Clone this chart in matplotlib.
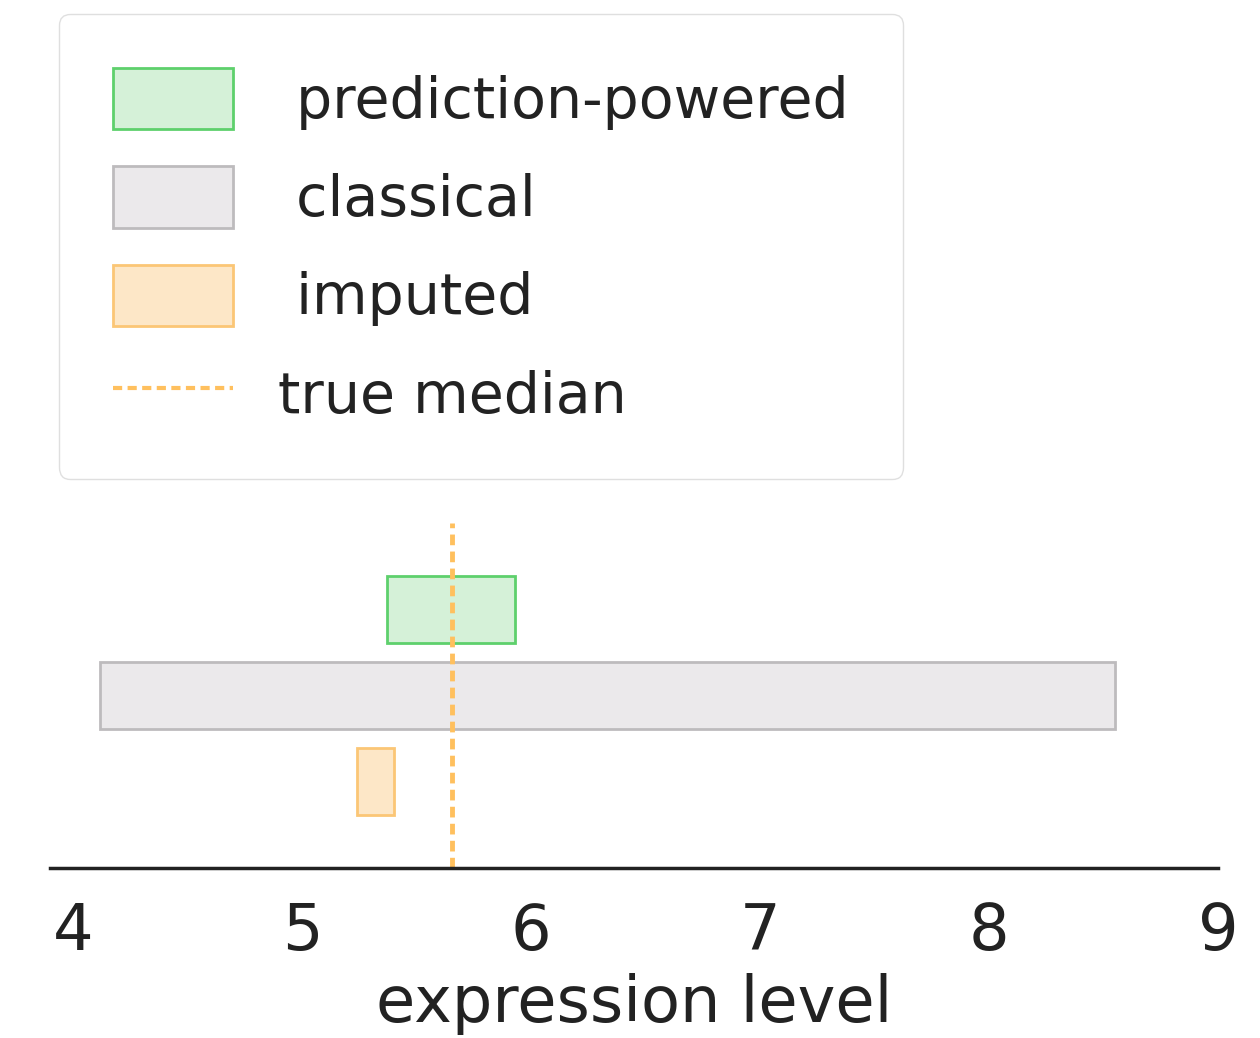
import matplotlib.pyplot as plt
from matplotlib.patches import Patch
from matplotlib.lines import Line2D

# ── DATA ──────────────────────────────────────────────────────────────
methods = ["prediction-powered", "classical", "imputed"]
lower   = [5.37, 4.12, 5.24]
upper   = [5.93, 8.55, 5.40]
true_median = 5.655

fill_colors = ["#d5f1d8", "#ebe9eb", "#fde7c7"]
edge_colors = ["#5ed06c", "#bdbbbd", "#fbc676"]
line_color  = "#ffc05e"
ypos = [2, 1, 0]

# ── PLOT ──────────────────────────────────────────────────────────────
plt.rcParams["font.family"] = ["DejaVu Sans"]
fig = plt.figure(figsize=(12.6, 10.38), dpi=100)
ax = fig.add_axes([0.0397, 0.1638, 0.927, 0.3323])

for y, lo, hi, fc, ec in zip(ypos, lower, upper, fill_colors, edge_colors):
    ax.barh(y, hi - lo, left=lo, height=0.78, color=fc, edgecolor=ec, linewidth=2)

ax.axvline(true_median, color=line_color, linestyle="--", linewidth=3.5,
           dashes=(2.2, 1.3))

ax.set_xlim(3.9, 9.0)
ax.set_ylim(-1, 3)
ax.set_yticks([])
for s in ["top", "right", "left"]:
    ax.spines[s].set_visible(False)
ax.spines["bottom"].set_linewidth(2.5)
ax.spines["bottom"].set_color("#222222")
ax.set_xticks([4, 5, 6, 7, 8, 9])
ax.tick_params(axis="x", length=0, pad=24, labelsize=46, colors="#222222")
ax.set_xlabel("expression level", fontsize=46, color="#222222", labelpad=7)

handles = [Patch(facecolor=fc, edgecolor=ec, linewidth=2)
           for fc, ec in zip(fill_colors, edge_colors)]
handles.append(Line2D([0], [0], color=line_color, linestyle="--", linewidth=3,
                      dashes=(2.2, 1.3)))
labels = [" " + m for m in methods] + ["true median"]
fig.legend(handles, labels, loc="upper left",
           bbox_to_anchor=(59 / 1260, 1 - 14 / 1038), borderaxespad=0,
           fontsize=41, handlelength=2.1, handleheight=1.28,
           handletextpad=0.8, labelspacing=0.64, borderpad=0.95,
           frameon=True, fancybox=True, edgecolor="#d8d8d8",
           labelcolor="#222222")

plt.savefig("out.png")
